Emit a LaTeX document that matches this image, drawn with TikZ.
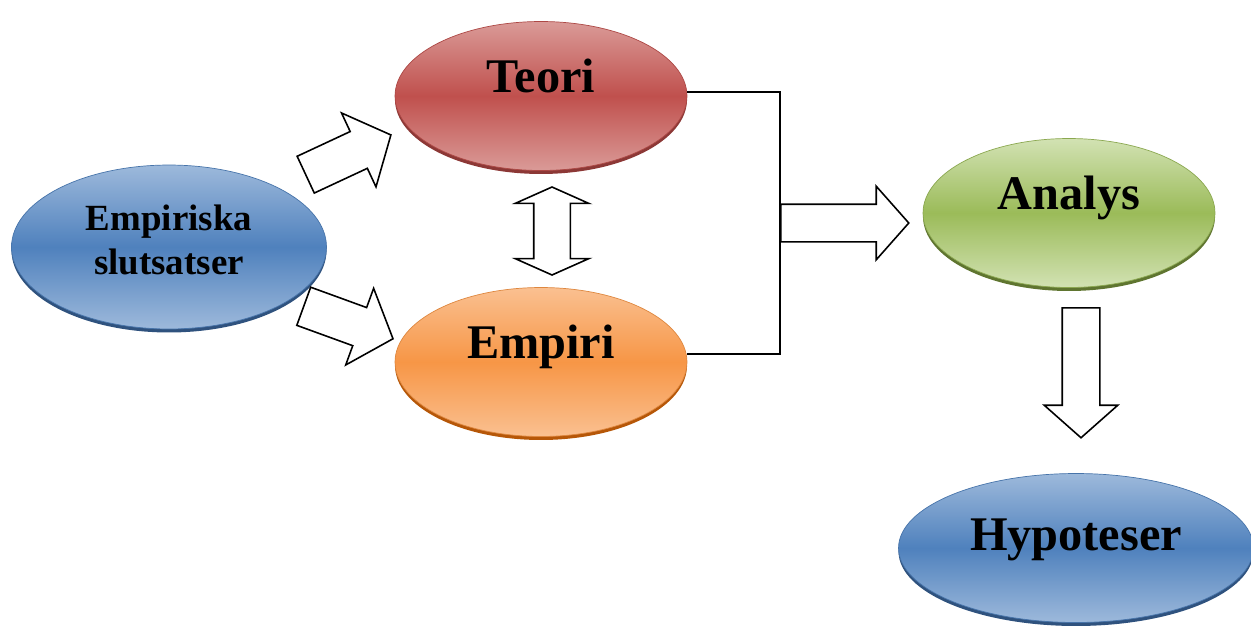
\documentclass[tikz,border=0pt]{standalone}
\usepackage{fontspec}
\setmainfont{Liberation Serif}
\usetikzlibrary{shapes.geometric,shapes.arrows,shadows,positioning}
\definecolor{bluemid}{HTML}{4F81BD}
\definecolor{bluelite}{HTML}{9DB9DB}
\definecolor{bluerim}{HTML}{2F527E}
\definecolor{redmid}{HTML}{C0504D}
\definecolor{redlite}{HTML}{DA9A98}
\definecolor{redrim}{HTML}{8C3836}
\definecolor{orgmid}{HTML}{F79646}
\definecolor{orglite}{HTML}{FAC090}
\definecolor{orgrim}{HTML}{B65708}
\definecolor{grnmid}{HTML}{9BBB59}
\definecolor{grnlite}{HTML}{D2E2B3}
\definecolor{grnrim}{HTML}{5F7530}
\tikzset{
  bubble/.style   ={ellipse,inner sep=0pt,minimum width=5.84cm,minimum height=2.98cm,
                    align=center,font=\bfseries\fontsize{27.5}{30}\selectfont},
  lifted/.style   ={text depth=0.8cm},
  bluebub/.style  ={bubble,draw=bluemid!90!black,top color=bluelite,bottom color=bluelite,
                    middle color=bluemid,general shadow={fill=bluerim,shadow yshift=-0.07cm}},
  redbub/.style   ={bubble,draw=redmid!90!black,top color=redlite,bottom color=redlite,
                    middle color=redmid,general shadow={fill=redrim,shadow yshift=-0.07cm}},
  orgbub/.style   ={bubble,draw=orgmid!90!black,top color=orglite,bottom color=orglite,
                    middle color=orgmid,general shadow={fill=orgrim,shadow yshift=-0.07cm}},
  grnbub/.style   ={bubble,draw=grnmid!90!black,top color=grnlite,bottom color=grnlite,
                    middle color=grnmid,general shadow={fill=grnrim,shadow yshift=-0.07cm}},
  blockarr/.style ={single arrow,draw,line width=0.9pt,fill=white,inner xsep=0pt,
                    inner ysep=0.36cm,single arrow head extend=0.36cm,
                    single arrow tip angle=97,anchor=tail},
  twoarr/.style   ={double arrow,draw,line width=0.9pt,fill=white,inner xsep=0pt,
                    inner ysep=0.35cm,double arrow head extend=0.37cm,
                    double arrow tip angle=132},
  conn/.style     ={line width=0.6pt}
}
\begin{document}
\begin{tikzpicture}[x=0.02cm,y=-0.02cm]
  \useasboundingbox (0,0) rectangle (1251,626);
  % Nodes
  \node (slut)  [bluebub,minimum width=6.3cm,minimum height=3.28cm,text depth=0.3cm,
                 font=\bfseries\fontsize{21}{25}\selectfont] at (169,247) {Empiriska\\slutsatser};
  \node (teori) [redbub,lifted] at (541,96) {Teori};
  \node (empiri)[orgbub,lifted] at (541,362) {Empiri};
  \node (analys)[grnbub,lifted] at (1069,213) {Analys};
  \node (hypo)  [bluebub,lifted,text depth=0.52cm,minimum width=7.1cm] at (1076,548) {Hypoteser};

  % Block arrows
  \node (upArr)   [blockarr,minimum height=1.88cm,inner ysep=0.39cm,single arrow head extend=0.41cm,
                   single arrow tip angle=98,rotate=25] at (305,175) {};
  \node (downArr) [blockarr,minimum height=1.9cm,inner ysep=0.39cm,single arrow head extend=0.41cm,
                   single arrow tip angle=98,rotate=-20] at (303,306) {};
  \node (bothArr) [twoarr,minimum height=1.76cm,rotate=90] at (552,231) {};
  \coordinate (join) at (780,223);
  \node (toAnalys)[blockarr,minimum height=2.56cm] at (join) {};
  \node (toHypo)  [blockarr,minimum height=2.6cm,rotate=-90] at (1081,307) {};

  % Connectors
  \draw [conn] ([yshift=0.08cm]teori.east) -| (join) |- ([yshift=0.16cm]empiri.east);
\end{tikzpicture}
\end{document}
